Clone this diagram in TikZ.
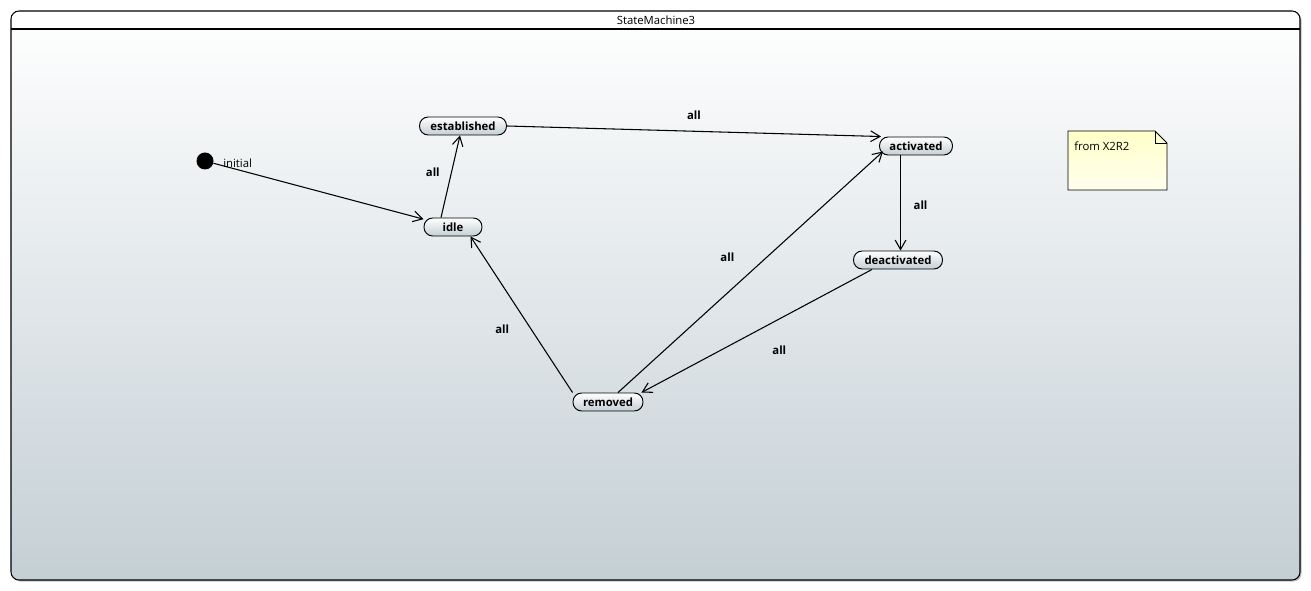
\documentclass[tikz,border=0pt]{standalone}
\usepackage{fontspec}
\setmainfont{Open Sans}
\usetikzlibrary{arrows.meta,positioning,calc}
\definecolor{framebot}{RGB}{196,207,213}
\definecolor{statebot}{RGB}{196,207,213}
\definecolor{notetop}{RGB}{255,255,200}
\definecolor{notebot}{RGB}{255,255,238}

\begin{document}
\begin{tikzpicture}[x=0.75pt, y=-0.75pt, >={Straight Barb[length=7pt,width=8pt]},
  state/.style={draw, line width=0.7pt, rounded corners=6.5pt, top color=white,
    bottom color=statebot, minimum height=13.5pt, inner sep=0pt,
    font=\fontsize{8.5}{10}\selectfont\bfseries},
  trans/.style={->, line width=0.8pt},
  lbl/.style={inner sep=0pt, font=\fontsize{8.5}{10}\selectfont\bfseries},
  plain/.style={inner sep=0pt, font=\fontsize{8.5}{10}\selectfont}]
  \useasboundingbox (0,0) rectangle (1311,591);

  % frame of the state machine
  \fill[black!25, rounded corners=6pt] (12.5,12.5) rectangle (1301.5,581.5);
  \shade[top color=white, bottom color=framebot, rounded corners=6pt]
    (11,11) rectangle (1300,580);
  \draw[line width=0.8pt, rounded corners=6pt] (11,11) rectangle (1300,580);
  \draw[line width=0.8pt] (11,29) -- (1300,29);
  \node (title) [plain] at (656,20) {StateMachine3};

  % states
  \node (init) [circle, fill=black, minimum size=12.75pt, inner sep=0pt] at (205,161) {};
  \node (initlbl) [plain, anchor=west] at (223,163) {initial};
  \node (established) [state, minimum width=65.25pt] at (463,126) {established};
  \node (idle) [state, minimum width=43.5pt] at (453,227) {idle};
  \node (activated) [state, minimum width=54.75pt] at (916,146) {activated};
  \node (deactivated) [state, minimum width=66.75pt] at (898,260) {deactivated};
  \node (removed) [state, minimum width=52.5pt] at (608,402) {removed};

  % note
  \shade[top color=notetop, bottom color=notebot, draw, line width=0.7pt]
    (1068,131) -- (1155,131) -- (1167,143) -- (1167,190) -- (1068,190) -- cycle;
  \draw[line width=0.7pt] (1155,131) -- (1155,143) -- (1167,143);
  \node (note) [plain, anchor=west] at (1074,146) {from X2R2};

  % transitions
  \draw[trans] (init) -- (idle);
  \draw[trans] ([xshift=-9pt]idle.north) -- node[lbl, pos=.55, xshift=-14pt] {all}
    ([xshift=-2.25pt]established.south);
  \draw[trans] (established.east) -- node[lbl, pos=.5, yshift=12pt] {all}
    ([xshift=1.5pt]activated.north west);
  \draw[trans] ([xshift=-11.6pt]activated.south) -- node[lbl, pos=.52, xshift=15pt] {all}
    ([xshift=1.9pt]deactivated.north);
  \draw[trans] ([xshift=-19.5pt]deactivated.south) -- node[lbl, pos=.46, xshift=10pt, yshift=-18.4pt] {all}
    ([xshift=-1.5pt]removed.north east);
  \draw[trans] (removed.north west) -- node[lbl, pos=.49, xshift=-15.2pt, yshift=-9.9pt] {all}
    ([xshift=-9pt]idle.south east);
  \draw[trans] ([xshift=7.5pt]removed.north) -- node[lbl, pos=.48, xshift=-13.4pt, yshift=14.5pt] {all}
    ([xshift=3pt, yshift=3pt]activated.south west);
\end{tikzpicture}
\end{document}
